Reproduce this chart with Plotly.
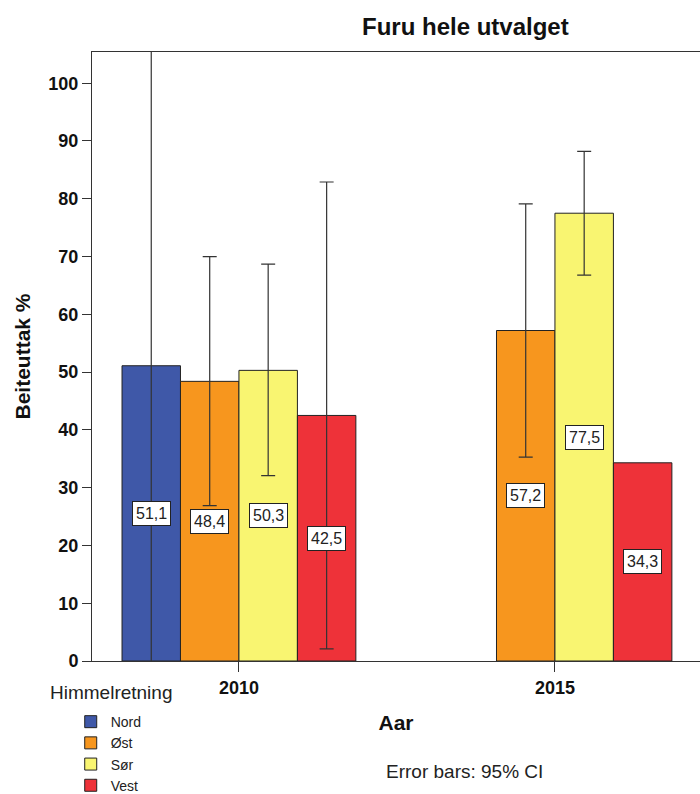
import plotly.graph_objects as go

years = ["2010", "2015"]
directions = ["Nord", "Øst", "Sør", "Vest"]
colors = ["#3F58A8", "#F7961E", "#F9F571", "#EE3239"]
means = {
    "Nord": [51.1, None],
    "Øst": [48.4, 57.2],
    "Sør": [50.3, 77.5],
    "Vest": [42.5, 34.3],
}
# 95% CI bounds (None = no error bar shown)
ci_low = {
    "Nord": [-8.9, None],
    "Øst": [26.9, 35.3],
    "Sør": [32.1, 66.8],
    "Vest": [2.1, None],
}
ci_high = {
    "Nord": [111.1, None],
    "Øst": [70.0, 79.1],
    "Sør": [68.7, 88.2],
    "Vest": [82.9, None],
}

FONT = "Liberation Sans, Arial, sans-serif"
bargap = 0.26
bw = (1 - bargap) / len(directions)
xpos = list(range(len(years)))


def trim(lst):
    out = list(lst)
    while out and out[-1] is None:
        out.pop()
    return out


fig = go.Figure()
for i, d in enumerate(directions):
    m = means[d]
    up = [(h - v) if (v is not None and h is not None) else None for v, h in zip(m, ci_high[d])]
    dn = [(v - l) if (v is not None and l is not None) else None for v, l in zip(m, ci_low[d])]
    fig.add_trace(go.Bar(
        x=xpos, y=m, name=d,
        marker=dict(color=colors[i], line=dict(color="#222222", width=1)),
        error_y=dict(type="data", symmetric=False, array=trim(up), arrayminus=trim(dn),
                     color="#333333", thickness=1.2, width=7),
    ))
    for j, v in enumerate(m):
        if v is None:
            continue
        fig.add_annotation(
            x=xpos[j] + (i - (len(directions) - 1) / 2) * bw, y=v / 2,
            text=f"{v:.1f}".replace(".", ","), showarrow=False,
            font=dict(family=FONT, size=16, color="#222222"),
            bgcolor="white", bordercolor="#222222", borderwidth=1, borderpad=3,
        )

fig.update_layout(
    width=700, height=794,
    margin=dict(l=92, r=0, t=52, b=133, autoexpand=False),
    plot_bgcolor="white", paper_bgcolor="white",
    barmode="group", bargap=bargap, bargroupgap=0,
    font=dict(family=FONT, color="#111111"),
    showlegend=True,
    legend=dict(x=-0.035, xanchor="left", y=-0.074, yanchor="top",
                font=dict(family=FONT, size=14, color="#222222"),
                tracegroupgap=0, itemclick=False, bgcolor="rgba(0,0,0,0)"),
    xaxis=dict(
        tickmode="array", tickvals=xpos, ticktext=years,
        range=[-0.465, 1.459], showgrid=False, zeroline=False,
        showline=True, linecolor="#333333", linewidth=1, mirror=True,
        ticks="outside", ticklen=10, tickcolor="#333333",
        tickfont=dict(family=FONT, size=18, color="#111111", weight="bold"),
        title=dict(text="<b>Aar</b>", font=dict(family=FONT, size=21, color="#111111"), standoff=18),
    ),
    yaxis=dict(
        range=[0, 105.4], tickmode="array", tickvals=list(range(0, 101, 10)),
        showgrid=False, zeroline=False,
        showline=True, linecolor="#333333", linewidth=1, mirror=False,
        ticks="outside", ticklen=9, tickcolor="#333333",
        tickfont=dict(family=FONT, size=18, color="#111111", weight="bold"),
        title=dict(text="<b>Beiteuttak %</b>", font=dict(family=FONT, size=21, color="#111111"), standoff=12),
    ),
)
fig.add_annotation(x=(465 - 92) / 608, xref="paper", y=(661 - 27) / 609, yref="paper",
                   yanchor="middle", text="<b>Furu hele utvalget</b>", showarrow=False,
                   font=dict(family=FONT, size=24, color="#111111"))
fig.add_annotation(x=(48 - 92) / 608, xref="paper", xanchor="left", y=(661 - 692) / 609, yref="paper",
                   yanchor="middle", text="Himmelretning", showarrow=False,
                   font=dict(family=FONT, size=19, color="#222222"))
fig.add_annotation(x=(464 - 92) / 608, xref="paper", y=(661 - 771) / 609, yref="paper",
                   yanchor="middle", text="Error bars: 95% CI", showarrow=False,
                   font=dict(family=FONT, size=19, color="#222222"))

fig.write_html(
    "out.html",
    config={"displayModeBar": False},
    post_script="document.body.style.margin='0';document.body.style.overflow='hidden';",
)
